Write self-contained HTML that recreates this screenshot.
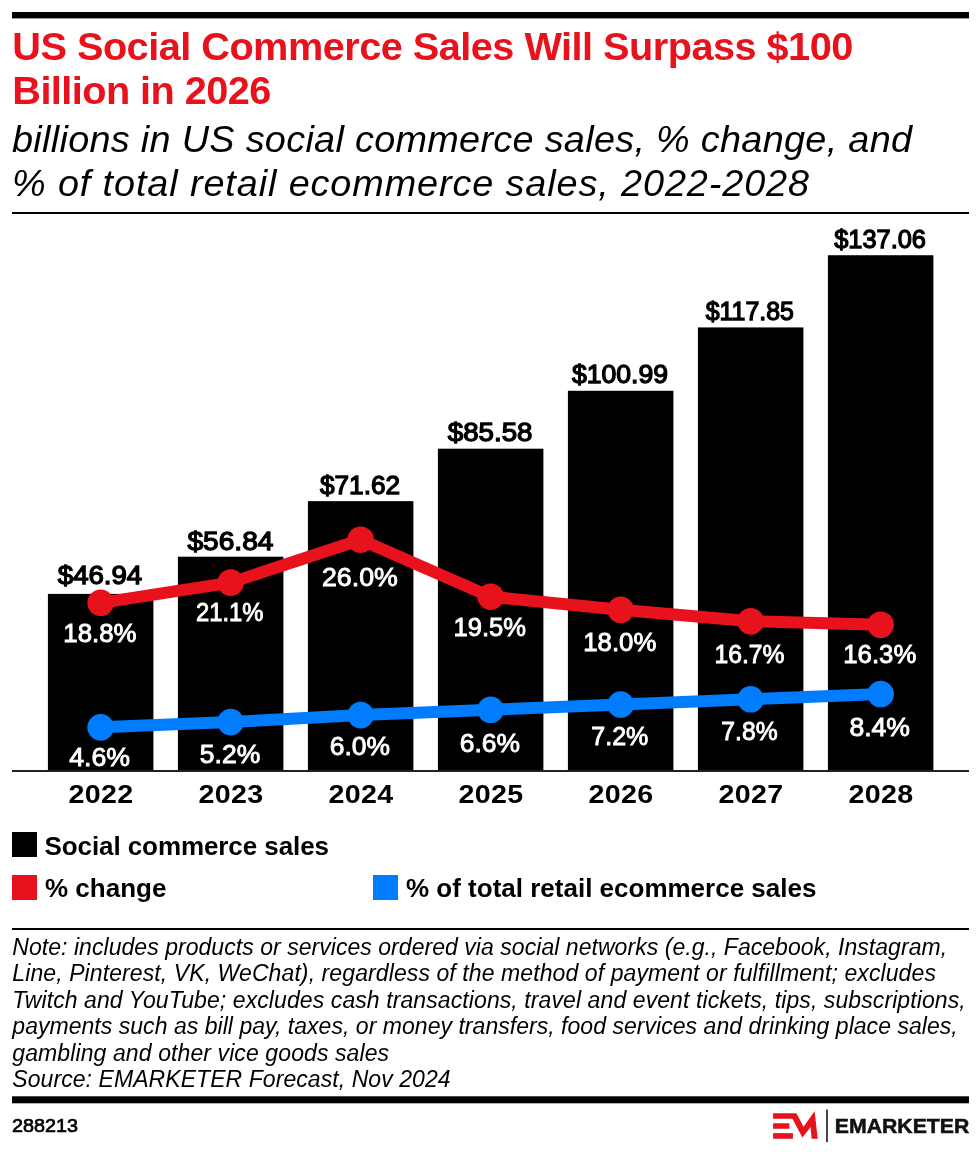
<!DOCTYPE html>
<html><head><meta charset="utf-8"><style>
html,body{margin:0;padding:0;background:#fff;width:980px;height:1154px;overflow:hidden}
svg{display:block;will-change:transform}
text{font-family:"Liberation Sans",sans-serif}
</style></head><body>
<svg width="980" height="1154" viewBox="0 0 980 1154">
<rect width="980" height="1154" fill="#fff"/>
<rect x="12" y="12" width="957" height="6.4" fill="#000"/>
<text x="12.3" y="59.6" font-weight="bold" font-size="39.7" fill="#E8121C" textLength="841" lengthAdjust="spacing">US Social Commerce Sales Will Surpass $100</text>
<text x="12.3" y="103.6" font-weight="bold" font-size="39.7" fill="#E8121C" textLength="259" lengthAdjust="spacing">Billion in 2026</text>
<text x="12" y="152.2" font-style="italic" font-size="37.8" fill="#000" textLength="900" lengthAdjust="spacing">billions in US social commerce sales, % change, and</text>
<text x="12" y="196.2" font-style="italic" font-size="37.8" fill="#000" textLength="797" lengthAdjust="spacing">% of total retail ecommerce sales, 2022-2028</text>
<rect x="12" y="212" width="957" height="2" fill="#000"/>
<rect x="47.90" y="593.90" width="105.5" height="177.10" fill="#000"/>
<rect x="177.90" y="556.70" width="105.5" height="214.30" fill="#000"/>
<rect x="307.90" y="501.15" width="105.5" height="269.85" fill="#000"/>
<rect x="437.90" y="448.69" width="105.5" height="322.31" fill="#000"/>
<rect x="567.90" y="390.78" width="105.5" height="380.22" fill="#000"/>
<rect x="697.90" y="327.42" width="105.5" height="443.58" fill="#000"/>
<rect x="827.90" y="255.23" width="105.5" height="515.77" fill="#000"/>
<rect x="12" y="770" width="957" height="2" fill="#231F20"/>
<polyline points="100.65,602.82 230.65,582.65 360.65,539.68 490.65,596.69 620.65,609.84 750.65,621.24 880.65,624.75" fill="none" stroke="#E8121C" stroke-width="12.0" stroke-linejoin="round"/>
<circle cx="100.65" cy="602.82" r="13.3" fill="#E8121C"/>
<circle cx="230.65" cy="582.65" r="13.3" fill="#E8121C"/>
<circle cx="360.65" cy="539.68" r="13.3" fill="#E8121C"/>
<circle cx="490.65" cy="596.69" r="13.3" fill="#E8121C"/>
<circle cx="620.65" cy="609.84" r="13.3" fill="#E8121C"/>
<circle cx="750.65" cy="621.24" r="13.3" fill="#E8121C"/>
<circle cx="880.65" cy="624.75" r="13.3" fill="#E8121C"/>
<polyline points="100.65,727.36 230.65,722.10 360.65,715.08 490.65,709.82 620.65,704.56 750.65,699.29 880.65,694.03" fill="none" stroke="#007CFF" stroke-width="12.0" stroke-linejoin="round"/>
<circle cx="100.65" cy="727.36" r="13.3" fill="#007CFF"/>
<circle cx="230.65" cy="722.10" r="13.3" fill="#007CFF"/>
<circle cx="360.65" cy="715.08" r="13.3" fill="#007CFF"/>
<circle cx="490.65" cy="709.82" r="13.3" fill="#007CFF"/>
<circle cx="620.65" cy="704.56" r="13.3" fill="#007CFF"/>
<circle cx="750.65" cy="699.29" r="13.3" fill="#007CFF"/>
<circle cx="880.65" cy="694.03" r="13.3" fill="#007CFF"/>
<text x="100.00" y="584.10" text-anchor="middle" font-size="25.7" fill="#000" stroke="#000" stroke-width="1.3" textLength="84.40" lengthAdjust="spacingAndGlyphs">$46.94</text>
<text x="230.45" y="550.00" text-anchor="middle" font-size="25.7" fill="#000" stroke="#000" stroke-width="1.3" textLength="85.90" lengthAdjust="spacingAndGlyphs">$56.84</text>
<text x="360.00" y="494.10" text-anchor="middle" font-size="25.7" fill="#000" stroke="#000" stroke-width="1.3" textLength="80.00" lengthAdjust="spacingAndGlyphs">$71.62</text>
<text x="490.15" y="441.20" text-anchor="middle" font-size="25.7" fill="#000" stroke="#000" stroke-width="1.3" textLength="84.70" lengthAdjust="spacingAndGlyphs">$85.58</text>
<text x="620.00" y="383.30" text-anchor="middle" font-size="25.7" fill="#000" stroke="#000" stroke-width="1.3" textLength="96.00" lengthAdjust="spacingAndGlyphs">$100.99</text>
<text x="749.80" y="319.60" text-anchor="middle" font-size="25.7" fill="#000" stroke="#000" stroke-width="1.3" textLength="88.20" lengthAdjust="spacingAndGlyphs">$117.85</text>
<text x="880.10" y="248.00" text-anchor="middle" font-size="25.7" fill="#000" stroke="#000" stroke-width="1.3" textLength="91.80" lengthAdjust="spacingAndGlyphs">$137.06</text>
<text x="99.90" y="642.00" text-anchor="middle" font-size="25.7" fill="#fff" stroke="#fff" stroke-width="0.9" textLength="73.20" lengthAdjust="spacingAndGlyphs">18.8%</text>
<text x="229.75" y="621.00" text-anchor="middle" font-size="25.7" fill="#fff" stroke="#fff" stroke-width="0.9" textLength="67.50" lengthAdjust="spacingAndGlyphs">21.1%</text>
<text x="359.90" y="585.60" text-anchor="middle" font-size="25.7" fill="#fff" stroke="#fff" stroke-width="0.9" textLength="75.80" lengthAdjust="spacingAndGlyphs">26.0%</text>
<text x="489.75" y="636.00" text-anchor="middle" font-size="25.7" fill="#fff" stroke="#fff" stroke-width="0.9" textLength="72.50" lengthAdjust="spacingAndGlyphs">19.5%</text>
<text x="619.80" y="650.50" text-anchor="middle" font-size="25.7" fill="#fff" stroke="#fff" stroke-width="0.9" textLength="73.00" lengthAdjust="spacingAndGlyphs">18.0%</text>
<text x="749.50" y="662.60" text-anchor="middle" font-size="25.7" fill="#fff" stroke="#fff" stroke-width="0.9" textLength="70.00" lengthAdjust="spacingAndGlyphs">16.7%</text>
<text x="879.80" y="662.60" text-anchor="middle" font-size="25.7" fill="#fff" stroke="#fff" stroke-width="0.9" textLength="73.00" lengthAdjust="spacingAndGlyphs">16.3%</text>
<text x="99.60" y="766.10" text-anchor="middle" font-size="25.7" fill="#fff" stroke="#fff" stroke-width="0.9" textLength="60.80" lengthAdjust="spacingAndGlyphs">4.6%</text>
<text x="230.00" y="762.80" text-anchor="middle" font-size="25.7" fill="#fff" stroke="#fff" stroke-width="0.9" textLength="60.40" lengthAdjust="spacingAndGlyphs">5.2%</text>
<text x="359.90" y="754.50" text-anchor="middle" font-size="25.7" fill="#fff" stroke="#fff" stroke-width="0.9" textLength="60.20" lengthAdjust="spacingAndGlyphs">6.0%</text>
<text x="489.90" y="751.50" text-anchor="middle" font-size="25.7" fill="#fff" stroke="#fff" stroke-width="0.9" textLength="60.20" lengthAdjust="spacingAndGlyphs">6.6%</text>
<text x="619.85" y="745.30" text-anchor="middle" font-size="25.7" fill="#fff" stroke="#fff" stroke-width="0.9" textLength="57.10" lengthAdjust="spacingAndGlyphs">7.2%</text>
<text x="749.45" y="739.50" text-anchor="middle" font-size="25.7" fill="#fff" stroke="#fff" stroke-width="0.9" textLength="56.30" lengthAdjust="spacingAndGlyphs">7.8%</text>
<text x="879.70" y="736.20" text-anchor="middle" font-size="25.7" fill="#fff" stroke="#fff" stroke-width="0.9" textLength="60.60" lengthAdjust="spacingAndGlyphs">8.4%</text>
<text transform="translate(100.95,803) scale(1.1,1)" x="0" y="0" text-anchor="middle" font-weight="bold" font-size="26" fill="#000" letter-spacing="0.3">2022</text>
<text transform="translate(230.95,803) scale(1.1,1)" x="0" y="0" text-anchor="middle" font-weight="bold" font-size="26" fill="#000" letter-spacing="0.3">2023</text>
<text transform="translate(360.95,803) scale(1.1,1)" x="0" y="0" text-anchor="middle" font-weight="bold" font-size="26" fill="#000" letter-spacing="0.3">2024</text>
<text transform="translate(490.95,803) scale(1.1,1)" x="0" y="0" text-anchor="middle" font-weight="bold" font-size="26" fill="#000" letter-spacing="0.3">2025</text>
<text transform="translate(620.95,803) scale(1.1,1)" x="0" y="0" text-anchor="middle" font-weight="bold" font-size="26" fill="#000" letter-spacing="0.3">2026</text>
<text transform="translate(750.95,803) scale(1.1,1)" x="0" y="0" text-anchor="middle" font-weight="bold" font-size="26" fill="#000" letter-spacing="0.3">2027</text>
<text transform="translate(880.95,803) scale(1.1,1)" x="0" y="0" text-anchor="middle" font-weight="bold" font-size="26" fill="#000" letter-spacing="0.3">2028</text>
<rect x="12" y="832" width="25" height="25" fill="#000"/>
<rect x="12" y="875" width="25" height="25" fill="#E8121C"/>
<rect x="373" y="875" width="25" height="25" fill="#007CFF"/>
<text x="44.5" y="855" font-weight="bold" font-size="26" fill="#000" textLength="284.5" lengthAdjust="spacing">Social commerce sales</text>
<text x="45" y="897.2" font-weight="bold" font-size="26" fill="#000">% change</text>
<text x="406" y="897.2" font-weight="bold" font-size="26" fill="#000">% of total retail ecommerce sales</text>
<rect x="12" y="928" width="957" height="2" fill="#000"/>
<text x="12.3" y="954.50" font-style="italic" font-size="23" fill="#000" textLength="934.8" lengthAdjust="spacing">Note: includes products or services ordered via social networks (e.g., Facebook, Instagram,</text>
<text x="12.3" y="981.00" font-style="italic" font-size="23" fill="#000" textLength="923.6" lengthAdjust="spacing">Line, Pinterest, VK, WeChat), regardless of the method of payment or fulfillment; excludes</text>
<text x="12.3" y="1007.50" font-style="italic" font-size="23" fill="#000" textLength="953.4" lengthAdjust="spacing">Twitch and YouTube; excludes cash transactions, travel and event tickets, tips, subscriptions,</text>
<text x="12.3" y="1034.00" font-style="italic" font-size="23" fill="#000" textLength="945.4" lengthAdjust="spacing">payments such as bill pay, taxes, or money transfers, food services and drinking place sales,</text>
<text x="12.3" y="1060.50" font-style="italic" font-size="23" fill="#000" textLength="376.8" lengthAdjust="spacing">gambling and other vice goods sales</text>
<text x="12.3" y="1087.00" font-style="italic" font-size="23" fill="#000" textLength="438.3" lengthAdjust="spacing">Source: EMARKETER Forecast, Nov 2024</text>
<rect x="12" y="1096.3" width="957" height="7" fill="#000"/>
<text x="12" y="1132.4" font-size="18.4" fill="#000" stroke="#000" stroke-width="0.7" textLength="66" lengthAdjust="spacingAndGlyphs">288213</text>
<polygon points="773.09,1113.16 796.37,1113.16 803.56,1126.8 814.61,1111.25 817.7,1138.75 811.53,1138.75 810.68,1127.08 802.43,1137.46 792.45,1118.66 773.09,1118.66" fill="#E8121C"/>
<rect x="773.09" y="1123.26" width="16.27" height="5.5" fill="#E8121C"/>
<rect x="773.09" y="1133.14" width="19.81" height="5.61" fill="#E8121C"/>
<rect x="826.2" y="1109.5" width="1.6" height="32.5" fill="#1a1a1a"/>
<text x="834.8" y="1132.7" font-weight="bold" font-size="19.5" fill="#111" stroke="#111" stroke-width="0.5" textLength="134.5" lengthAdjust="spacingAndGlyphs">EMARKETER</text>
</svg>
</body></html>
